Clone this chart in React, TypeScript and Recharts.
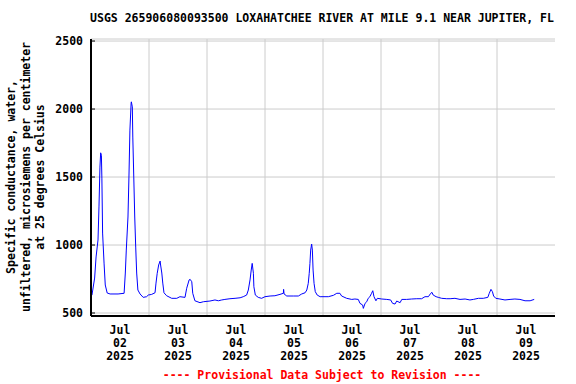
import React from "react";
import {
  CartesianGrid,
  Line,
  LineChart,
  ReferenceLine,
  XAxis,
  YAxis,
} from "recharts";

// hours since Jul 02 2025 00:00
const hours = [
  0, 0.4, 1.5, 2.1, 2.9, 3.3, 3.7, 4.0, 4.3, 4.5, 4.8, 5.4, 5.9, 6.7, 7.9, 11.2,
  13.7, 14.2, 14.6, 15.3, 15.7, 16.1, 16.6, 16.7, 17.1, 17.3, 17.7, 18.1, 18.5,
  18.9, 19.4, 20.3, 21.6, 23.0, 23.7, 25.1, 26.5, 26.9, 27.4, 28.0, 28.6, 28.8,
  29.3, 29.7, 30.2, 31.3, 33.4, 35.5, 36.8, 38.9, 39.6, 40.6, 41.0, 41.7, 42.1,
  43.0, 45.1, 46.5, 49.2, 51.3, 52.7, 54.1, 55.4, 57.5, 59.6, 61.7, 63.0, 64.4,
  65.1, 65.8, 66.3, 66.7, 67.2, 67.4, 68.0, 69.2, 70.6, 72.0, 74.1, 76.1, 78.2,
  79.6, 79.7, 79.9, 81.0, 83.7, 85.8, 87.2, 88.6, 89.3, 89.9, 90.3, 90.6, 90.9,
  91.3, 91.6, 91.9, 92.3, 92.8, 93.6, 94.8, 98.2, 100.3, 101.7, 103.0, 103.7,
  105.8, 107.9, 109.2, 110.6, 111.3, 112.4, 112.7, 113.4, 114.1, 114.7, 115.4,
  116.1, 116.6, 117.1, 117.9, 118.5, 120.3, 122.4, 124.0, 124.8, 125.8, 126.5,
  127.9, 128.6, 130.6, 132.7, 134.8, 136.8, 138.2, 139.6, 140.6, 141.1, 141.6,
  142.8, 143.7, 145.1, 147.2, 148.6, 150.6, 152.7, 154.8, 156.8, 158.2, 160.3,
  162.3, 164.2, 164.8, 165.5, 166.1, 166.6, 167.5, 169.2, 171.3, 173.4, 175.4,
  177.5, 179.6, 181.7, 183.4,
];

const conductance = [
  640, 632, 757, 912, 1037, 1280, 1573, 1678, 1660, 1492, 1088, 867, 706, 647,
  640, 640, 645, 794, 963, 1206, 1500, 1845, 2043, 2053, 2016, 1794, 1500, 1206,
  985, 794, 669, 640, 615, 620, 632, 637, 649, 720, 792, 853, 882, 853, 794, 720,
  649, 627, 608, 608, 620, 615, 682, 743, 748, 730, 645, 590, 576, 583, 588, 596,
  590, 596, 600, 605, 608, 612, 620, 632, 669, 743, 816, 865, 792, 693, 632, 615,
  608, 620, 625, 627, 637, 645, 674, 640, 625, 625, 625, 640, 649, 669, 718, 792,
  865, 963, 1007, 963, 816, 718, 657, 632, 620, 620, 630, 645, 645, 625, 608, 600,
  603, 600, 571, 559, 534, 571, 583, 608, 620, 645, 664, 620, 590, 608, 603, 600,
  596, 571, 566, 588, 576, 600, 600, 603, 605, 605, 620, 620, 645, 652, 632, 620,
  615, 608, 605, 605, 608, 600, 603, 596, 600, 608, 608, 615, 645, 674, 657, 625,
  608, 603, 596, 600, 603, 600, 590, 590, 600,
];

const midnights = [24, 48, 72, 96, 120, 144, 168];
const labelHours = [12, 36, 60, 84, 108, 132, 156, 180];
const tickMonths = ["Jul", "Jul", "Jul", "Jul", "Jul", "Jul", "Jul", "Jul"];
const tickDays = ["02", "03", "04", "05", "06", "07", "08", "09"];
const tickYears = ["2025", "2025", "2025", "2025", "2025", "2025", "2025", "2025"];
const yTicks = [500, 1000, 1500, 2000, 2500];

const data = hours.map((h, i) => ({ h, v: conductance[i] }));

const FONT = "'DejaVu Sans Mono', monospace";

function DateTick(props: any) {
  const { x, y, payload } = props;
  const i = labelHours.indexOf(payload.value);
  return (
    <text
      x={x}
      y={y}
      textAnchor="middle"
      fontFamily={FONT}
      fontWeight="bold"
      fontSize={11.5}
      fill="#000"
    >
      <tspan x={x} dy={10}>{tickMonths[i]}</tspan>
      <tspan x={x} dy={13}>{tickDays[i]}</tspan>
      <tspan x={x} dy={13}>{tickYears[i]}</tspan>
    </text>
  );
}

export default function App() {
  return (
    <div style={{ position: "absolute", left: 0, top: 0, width: 576, height: 384, background: "#fff" }}>
      <LineChart
        width={576}
        height={384}
        data={data}
        margin={{ top: 39, right: 21, bottom: 8, left: 0 }}
      >
        <CartesianGrid vertical={false} stroke="#cccccc" strokeWidth={1} />
        {midnights.map((m) => (
          <ReferenceLine key={m} x={m} stroke="#cccccc" strokeWidth={1} />
        ))}
        <XAxis
          dataKey="h"
          type="number"
          domain={[0, 192]}
          ticks={labelHours}
          interval={0}
          tickLine={false}
          height={60}
          axisLine={{ stroke: "#000", strokeWidth: 2 }}
          tick={<DateTick />}
        />
        <XAxis
          xAxisId="top"
          orientation="top"
          dataKey="h"
          type="number"
          domain={[0, 192]}
          height={0}
          tick={false}
          tickLine={false}
          axisLine={{ stroke: "#000", strokeWidth: 2 }}
        />
        <YAxis
          type="number"
          domain={[478, 2515]}
          ticks={yTicks}
          interval={0}
          width={91}
          tickSize={-4}
          tickMargin={12}
          tickLine={{ stroke: "#000" }}
          axisLine={{ stroke: "#000", strokeWidth: 2 }}
          tick={{ fontFamily: FONT, fontWeight: "bold", fontSize: 11.5, fill: "#000" }}
        />
        <YAxis
          yAxisId="right"
          orientation="right"
          type="number"
          domain={[478, 2515]}
          width={0}
          tick={false}
          tickLine={false}
          axisLine={{ stroke: "#000", strokeWidth: 2 }}
        />
        <Line
          type="linear"
          dataKey="v"
          stroke="#0000ff"
          strokeWidth={1}
          dot={false}
          isAnimationActive={false}
        />
      </LineChart>
      <svg
        width={576}
        height={384}
        style={{ position: "absolute", left: 0, top: 0, pointerEvents: "none" }}
        fontFamily={FONT}
        fontWeight="bold"
        fontSize={11.5}
      >
        <text x={322} y={22} textAnchor="middle" fill="#000">
          USGS 265906080093500 LOXAHATCHEE RIVER AT MILE 9.1 NEAR JUPITER, FL
        </text>
        <g transform="rotate(-90)">
          <text x={-177} y={15} textAnchor="middle" fill="#000">
            Specific conductance, water,
          </text>
          <text x={-177} y={30} textAnchor="middle" fill="#000">
            unfiltered, microsiemens per centimeter
          </text>
          <text x={-177} y={44} textAnchor="middle" fill="#000">
            at 25 degrees Celsius
          </text>
        </g>
        <text x={322} y={379} textAnchor="middle" fill="#ff0000">
          ---- Provisional Data Subject to Revision ----
        </text>
      </svg>
    </div>
  );
}
